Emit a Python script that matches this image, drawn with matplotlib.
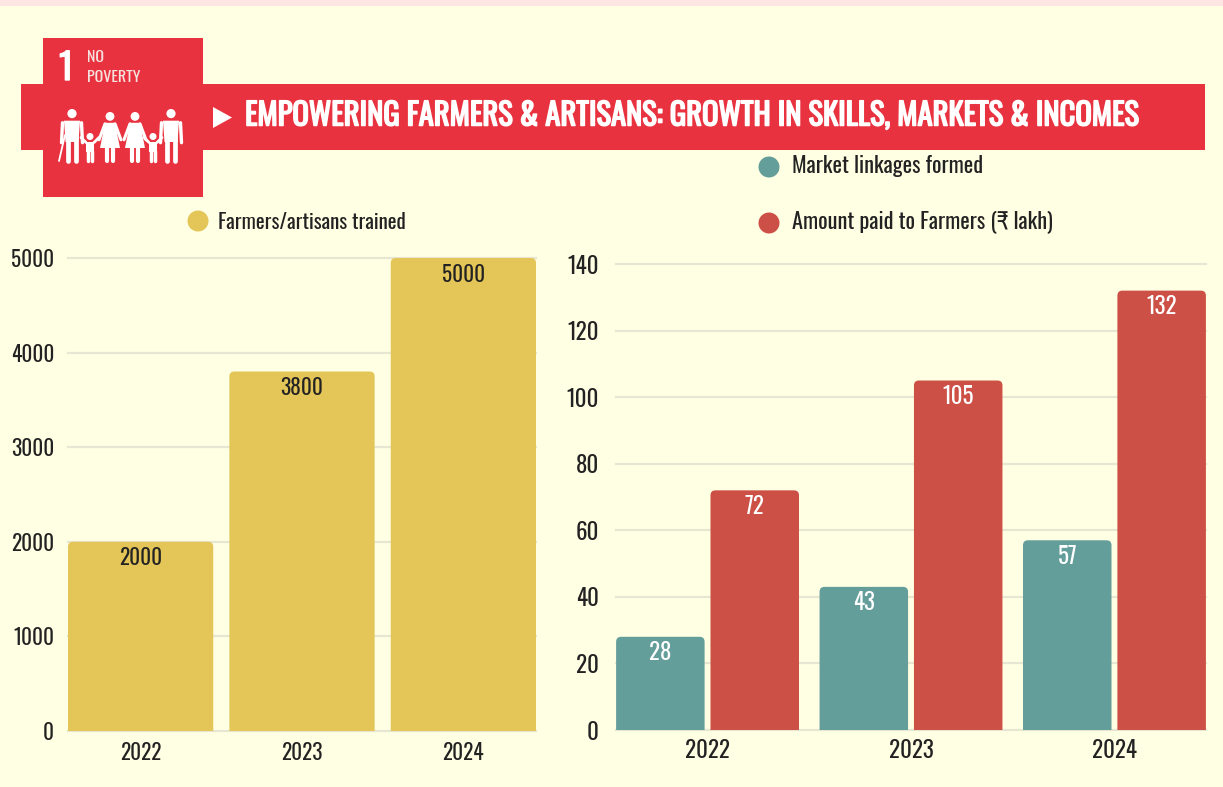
import matplotlib
matplotlib.use("Agg")
import matplotlib.pyplot as plt
import matplotlib.patheffects as pe
from matplotlib.patches import Rectangle, Circle, Polygon, PathPatch
from matplotlib.path import Path

W, H = 1223, 787
plt.rcParams['font.family'] = ['Oswald', 'Liberation Sans', 'DejaVu Sans']

years = ['2022', '2023', '2024']
trained = [2000, 3800, 5000]
linkages = [28, 43, 57]
paid = [72, 105, 132]
left_ticks = [0, 1000, 2000, 3000, 4000, 5000]
right_ticks = [0, 20, 40, 60, 80, 100, 120, 140]

title = 'EMPOWERING FARMERS & ARTISANS: GROWTH IN SKILLS, MARKETS & INCOMES'
legend_left = 'Farmers/artisans trained'
legend_r1 = 'Market linkages formed'
legend_r2 = 'Amount paid to Farmers (₹ lakh)'

BG = '#FFFFE3'
RED = '#E9323F'
GOLD = '#E4C558'
TEAL = '#649E9B'
BRICK = '#CC5045'
GRID = '#E6E6D2'
INK = '#222222'

fig = plt.figure(figsize=(W / 100, H / 100), dpi=100, facecolor=BG)


def axes_px(x0, y_top, x1, y_bot, **kw):
    return fig.add_axes([x0 / W, 1 - y_bot / H, (x1 - x0) / W, (y_bot - y_top) / H], **kw)


def rounded_bars(ax, xs, heights, width, color, px_w, px_h, r=5):
    bars = ax.bar(xs, heights, width=width, color=color, zorder=3)
    rx, ry = r / px_w, r / px_h
    for b in bars:
        x0, x1, h = b.get_x(), b.get_x() + b.get_width(), b.get_height()
        verts = [(x0, 0), (x0, h - ry), (x0, h), (x0 + rx, h), (x1 - rx, h), (x1, h), (x1, h - ry), (x1, 0), (x0, 0)]
        codes = [Path.MOVETO, Path.LINETO, Path.CURVE3, Path.CURVE3, Path.LINETO, Path.CURVE3, Path.CURVE3, Path.LINETO, Path.CLOSEPOLY]
        b.set_visible(False)
        ax.add_patch(PathPatch(Path(verts, codes), facecolor=color, edgecolor='none', zorder=3, clip_on=False))
    return bars


def style(ax, ticks, ymax, size, xpad, ypad):
    ax.set_facecolor('none')
    ax.set_xlim(-0.45, 2.45)
    ax.set_ylim(0, ymax)
    ax.set_yticks(ticks)
    ax.set_xticks(range(len(years)))
    ax.set_xticklabels(years)
    ax.grid(axis='y', color=GRID, lw=1.6, zorder=0, clip_on=False)
    ax.set_axisbelow(True)
    for s in ax.spines.values():
        s.set_visible(False)
    ax.tick_params(axis='both', length=0, labelsize=size, labelcolor=INK)
    ax.tick_params(axis='x', pad=xpad)
    ax.tick_params(axis='y', pad=ypad)
    for t in ax.get_yticklabels() + ax.get_xticklabels():
        t.set_clip_on(False)


axL = axes_px(68, 258, 536, 731)
style(axL, left_ticks, 5000, 15.3, 8, 10)
rounded_bars(axL, range(3), trained, 0.9, GOLD, 468 / 2.9, 473 / 5000)
for i, v in enumerate(trained):
    axL.annotate(str(v), (i, v), xytext=(0, -12), textcoords='offset points',
                 ha='center', va='center', fontsize=15.3, color=INK, zorder=5)

axR = axes_px(616, 264, 1206, 730)
style(axR, right_ticks, 140, 16.5, 6.5, 12.5)
off, bw = 0.232, 0.435
xa = [i - off for i in range(3)]
xb = [i + off for i in range(3)]
rounded_bars(axR, xa, linkages, bw, TEAL, 590 / 2.9, 466 / 140)
rounded_bars(axR, xb, paid, bw, BRICK, 590 / 2.9, 466 / 140)
for xs, vals in ((xa, linkages), (xb, paid)):
    for x, v in zip(xs, vals):
        axR.annotate(str(v), (x, v), xytext=(0, -11.5), textcoords='offset points',
                     ha='center', va='center', fontsize=16.5, color='white', zorder=5)

ov = fig.add_axes([0, 0, 1, 1], zorder=10)
ov.set_xlim(0, W)
ov.set_ylim(H, 0)
ov.axis('off')
ov.patch.set_alpha(0)

ov.add_patch(Rectangle((0, 0), W, 5.5, color='#FDE6E3', lw=0))
ov.add_patch(Rectangle((21, 84), 1184, 66, color=RED, lw=0))
ov.add_patch(Rectangle((43, 38), 160, 159, color=RED, lw=0))
ov.add_patch(Polygon([(213, 107), (232, 117.5), (213, 128)], color='white', lw=0))
ov.text(245, 116, title, color='white', fontsize=22.05, ha='left', va='center',
        path_effects=[pe.withStroke(linewidth=1.1, foreground='white')])

ov.text(66, 69, '1', color='white', fontsize=26, ha='center', va='center',
        path_effects=[pe.withStroke(linewidth=1.0, foreground='white')])
ov.text(87, 58, 'NO', color='#F6E3DF', fontsize=11.5, ha='left', va='center')
ov.text(87, 77, 'POVERTY', color='#F6E3DF', fontsize=11.5, ha='left', va='center')


def limb(x0, y0, x1, y1, lw):
    ov.plot([x0, x1], [y0, y1], color='white', lw=lw, solid_capstyle='round', zorder=4)


def man(cx, top, bottom):
    r = 4.6
    ov.add_patch(Circle((cx, top + r), r, color='white', lw=0, zorder=4))
    sh = top + 2 * r + 2.5
    ov.add_patch(Polygon([(cx - 8, sh), (cx + 8, sh), (cx + 6.5, bottom - 20), (cx - 6.5, bottom - 20)], color='white', lw=0, zorder=4))
    limb(cx - 3.6, sh + 12, cx - 3.6, bottom - 1, 3.4)
    limb(cx + 3.6, sh + 12, cx + 3.6, bottom - 1, 3.4)
    limb(cx - 9.5, sh + 2, cx - 10.5, sh + 22, 2.4)
    limb(cx + 9.5, sh + 2, cx + 10.5, sh + 22, 2.4)


def woman(cx, top, bottom):
    r = 4.4
    ov.add_patch(Circle((cx, top + r), r, color='white', lw=0, zorder=4))
    sh = top + 2 * r + 2
    ov.add_patch(Polygon([(cx - 5, sh), (cx + 5, sh), (cx + 10, bottom - 14), (cx - 10, bottom - 14)], color='white', lw=0, zorder=4))
    limb(cx - 3.2, bottom - 14, cx - 3.2, bottom - 1, 3)
    limb(cx + 3.2, bottom - 14, cx + 3.2, bottom - 1, 3)
    limb(cx - 5, sh + 1, cx - 11, sh + 17, 2.2)
    limb(cx + 5, sh + 1, cx + 11, sh + 17, 2.2)


def child(cx, top, bottom):
    r = 3.5
    ov.add_patch(Circle((cx, top + r), r, color='white', lw=0, zorder=4))
    sh = top + 2 * r + 1.5
    ov.add_patch(Rectangle((cx - 4, sh), 8, bottom - sh - 10, color='white', lw=0, zorder=4))
    limb(cx - 2, bottom - 11, cx - 2, bottom - 1, 2.5)
    limb(cx + 2, bottom - 11, cx + 2, bottom - 1, 2.5)
    limb(cx - 4, sh + 1, cx - 9, sh - 4, 2)
    limb(cx + 4, sh + 1, cx + 9, sh - 4, 2)


man(72, 109, 162)
child(90, 133, 162)
woman(110, 112, 162)
woman(135, 112, 162)
child(153, 133, 162)
man(171, 109, 162)
limb(59, 161, 65, 135, 1.3)

for (cx, cy, col, tx, ty, s, fs) in [(198, 221, GOLD, 218, 222, legend_left, 15.15),
                                     (769, 167, TEAL, 792, 166, legend_r1, 16.05),
                                     (769, 223, BRICK, 792, 222, legend_r2, 16.05)]:
    ov.add_patch(Circle((cx, cy), 10.5, color=col, lw=0))
    ov.text(tx, ty, s, fontsize=fs, color=INK, ha='left', va='center')

fig.savefig('out.png', dpi=100, facecolor=BG)
